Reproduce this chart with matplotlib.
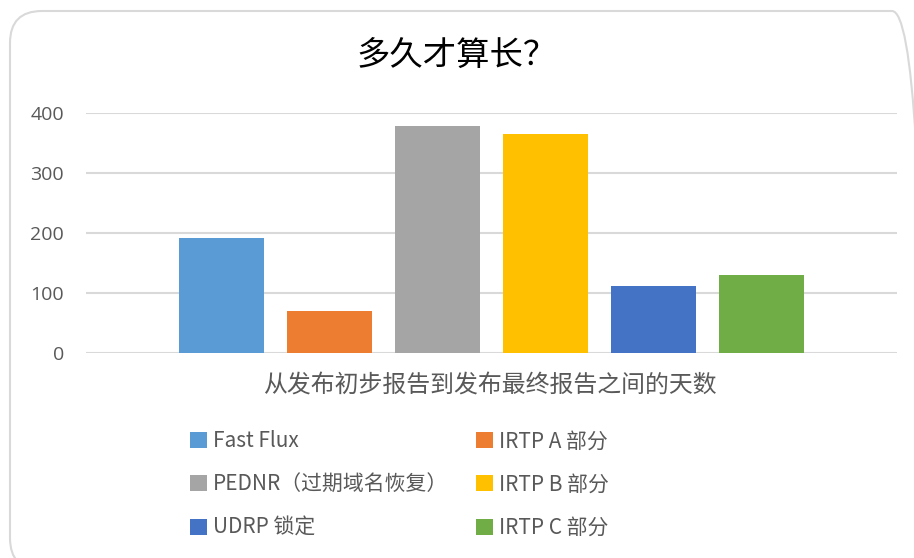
import matplotlib
matplotlib.use("Agg")
import matplotlib.pyplot as plt
from matplotlib.patches import Patch, FancyBboxPatch

plt.rcParams['font.family'] = ['Noto Sans CJK SC', 'DejaVu Sans']

title = "多久才算长？"
xlabel = "从发布初步报告到发布最终报告之间的天数"
series = ["Fast Flux", "IRTP A 部分", "PEDNR（过期域名恢复）", "IRTP B 部分", "UDRP 锁定", "IRTP C 部分"]
values = [192, 70, 379, 365, 111, 130]
colors = ["#5B9BD5", "#ED7D31", "#A5A5A5", "#FFC000", "#4472C4", "#70AD47"]
yticks = [0, 100, 200, 300, 400]

W, H = 914, 558
fig = plt.figure(figsize=(W / 100, H / 100), dpi=100)

# rounded border
border = FancyBboxPatch((10 / W, 1 - 570 / H), (914 - 10 + 10) / W, (570 - 11) / H,
                        boxstyle="round,pad=0,rounding_size=0.035",
                        transform=fig.transFigure, facecolor="none",
                        edgecolor="#d9d9d9", linewidth=1.5, clip_on=False,
                        mutation_aspect=W / H, zorder=-1)
fig.patches.append(border)

ax = fig.add_axes([86 / W, 1 - 352.7 / H, (897 - 86) / W, (352.7 - 113.3) / H])
ax.set_facecolor("none")
bw = 85 / 108
x = list(range(len(values)))
ax.bar(x, values, width=bw, color=colors, zorder=3)
ax.set_xlim(-1.255, 6.255)
ax.set_ylim(0, 400)
ax.set_yticks(yticks)
ax.set_yticklabels([str(v) for v in yticks])
ax.set_xticks([])
for s in ax.spines.values():
    s.set_visible(False)
ax.grid(axis="y", color="#d9d9d9", linewidth=1.5, zorder=0)
ax.tick_params(axis="y", length=0, pad=16, labelsize=14, labelcolor="#595959")
for lab in ax.get_yticklabels():
    lab.set_family(['Open Sans', 'DejaVu Sans'])

fig.text(0.5, 1 - 55 / H, title, ha="center", va="center", fontsize=24, color="black")
fig.text(490 / W, 1 - 385 / H, xlabel, ha="center", va="center", fontsize=17.2, color="#595959")

handles = [Patch(facecolor=c, edgecolor="none") for c in colors]
order = [0, 2, 4, 1, 3, 5]
leg = fig.legend([handles[i] for i in order], [series[i] for i in order],
                 ncol=2, loc="upper left", bbox_to_anchor=(180 / W, 1 - 420 / H),
                 frameon=False, fontsize=15, handlelength=0.8, handleheight=0.8,
                 handletextpad=0.3, columnspacing=1.33, labelspacing=1.02, borderpad=0)
for t in leg.get_texts():
    t.set_color("#595959")

fig.savefig("out.png", dpi=100)
